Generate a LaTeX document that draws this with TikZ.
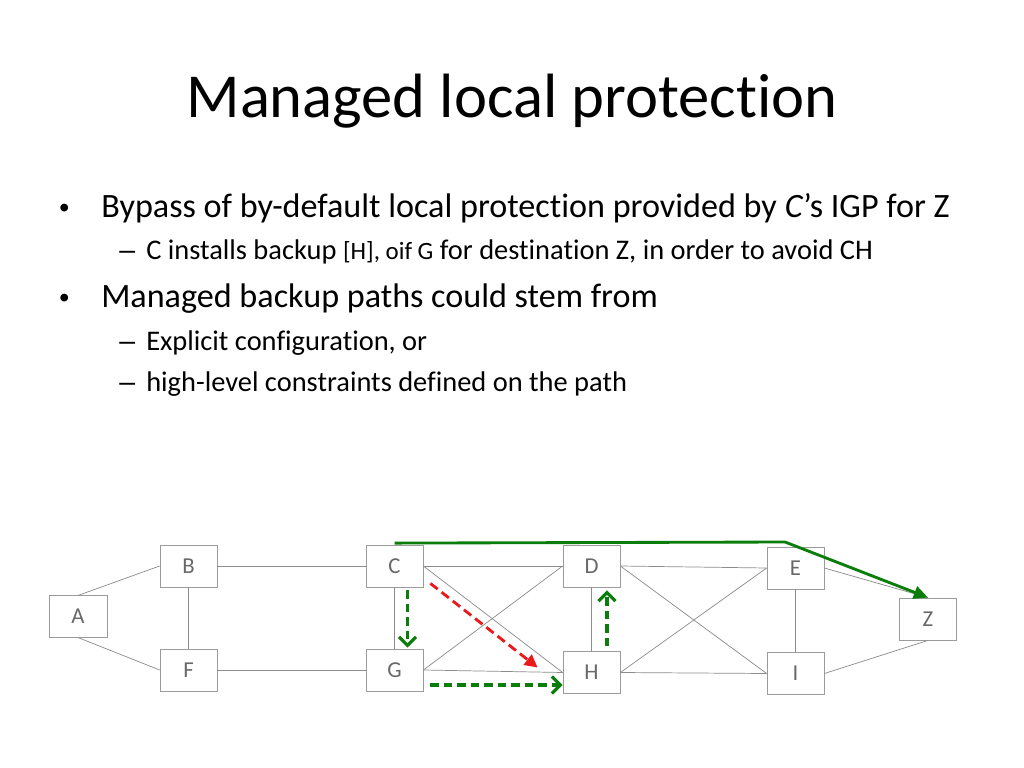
\documentclass[tikz,border=0pt]{standalone}
\usepackage{fontspec}
\setmainfont{Carlito}[Ligatures=NoCommon]
\newfontfamily\bulletfont{Liberation Sans}
\usetikzlibrary{arrows.meta,calc}
\definecolor{boxgray}{RGB}{155,155,155}
\definecolor{txtgray}{RGB}{105,105,105}
\definecolor{linegray}{RGB}{140,140,140}
\definecolor{pathgreen}{RGB}{10,125,10}
\definecolor{pathred}{RGB}{235,25,25}
\begin{document}
\begin{tikzpicture}[x=0.703125pt,y=-0.703125pt,
  router/.style={draw=boxgray, line width=0.6pt, fill=white, minimum width=40pt,
    minimum height=29.5pt, inner sep=0pt, text=txtgray, font=\fontsize{16}{16}\selectfont},
  link/.style={draw=linegray, line width=0.5pt},
  txt/.style={anchor=base west, inner sep=0pt},
  lvlone/.style={txt, font=\fontsize{24}{24}\selectfont},
  lvltwo/.style={txt, font=\fontsize{20}{20}\selectfont},
  bul/.style={txt, font=\bulletfont\fontsize{20}{20}\selectfont},
  greendash/.style={draw=pathgreen, line width=2.2pt, dash pattern=on 6pt off 3.5pt,
    -{Straight Barb[length=6pt,width=12pt,line width=2.2pt]}},
  reddash/.style={draw=pathred, line width=2pt, dash pattern=on 6.5pt off 3.5pt,
    -{Triangle[length=9pt,width=9pt]}},
  greensolid/.style={draw=pathgreen, line width=2pt, -{Triangle[length=10pt,width=9pt]}}
]
\useasboundingbox (0,0) rectangle (1024,768);
\fill[white] (0,0) rectangle (1024,768);

% title and bullets
\node[anchor=base, inner sep=0pt, font=\fontsize{44}{44}\selectfont] (title) at (512,118) {Managed local protection};
\node[bul] (b1) at (59,218) {•};
\node[lvlone] (t1) at (101,218) {Bypass of by-default local protection provided by \textit{C}’s IGP for Z};
\node[bul] (d1) at (119,260) {–};
\node[lvltwo] (t2) at (146,260) {C installs backup {\fontsize{17.5}{17.5}\selectfont [H], oif G} for destination Z, in order to avoid CH};
\node[bul] (b2) at (59,307) {•};
\node[lvlone] (t3) at (101,307) {Managed backup paths could stem from};
\node[bul] (d2) at (119,350) {–};
\node[lvltwo] (t4) at (146,350) {Explicit configuration, or};
\node[bul] (d3) at (119,391) {–};
\node[lvltwo] (t5) at (146,391) {high-level constraints defined on the path};

% routers
\node[router, minimum width=40.8pt, minimum height=29pt] (A) at (78,616.5) {A};
\node[router] (B) at (188.5,566) {B};
\node[router] (F) at (188.5,670) {F};
\node[router] (C) at (394.5,566) {C};
\node[router] (G) at (394.5,670) {G};
\node[router] (D) at (591.5,566) {D};
\node[router] (H) at (591.5,672.5) {H};
\node[router] (E) at (795.5,568) {E};
\node[router] (I) at (795.5,673.5) {I};
\node[router] (Z) at (928,619) {Z};

% links
\draw[link] (A.north) -- (B.west);
\draw[link] (A.south) -- (F.west);
\draw[link] (B.south) -- (F.north);
\draw[link] (B.east) -- (C.west);
\draw[link] (F.east) -- (G.west);
\draw[link] (C.south) -- (G.north);
\draw[link] (C.east) -- (D.west);
\draw[link] (C.east) -- (H.west);
\draw[link] (G.east) -- (D.west);
\draw[link] (G.east) -- (H.west);
\draw[link] (D.south) -- (H.north);
\draw[link] (D.east) -- (E.west);
\draw[link] (D.east) -- (I.west);
\draw[link] (H.east) -- (E.west);
\draw[link] (H.east) -- (I.west);
\draw[link] (E.south) -- (I.north);
\draw[link] (E.east) -- (Z.north);
\draw[link] (I.east) -- (Z.south);

% paths
\coordinate (bend) at (785,542);
\draw[greensolid] ($(C.north)+(0,-1.5)$) -- (bend) -- (Z.north);
\draw[greendash] ($(C.south)+(13,3)$) -- ($(G.north)+(13,-1)$);
\draw[reddash] ($(C.south east)+(7,-4)$) -- ($(H.west)+(-25,-5)$);
\draw[greendash] ($(G.east)+(7,15)$) -- ($(H.west)+(0,12.5)$);
\draw[greendash] ($(H.north)+(15.5,-5)$) -- ($(D.south)+(15.5,3)$);
\end{tikzpicture}
\end{document}
